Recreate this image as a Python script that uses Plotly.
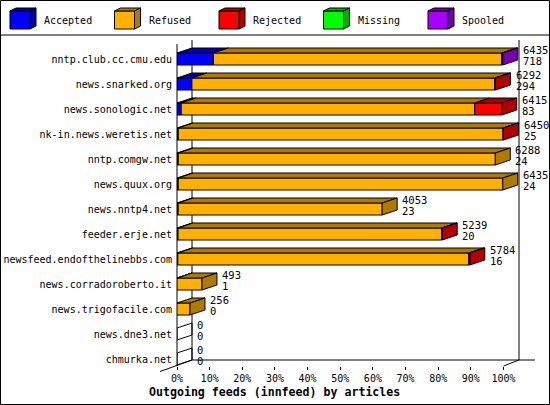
import plotly.graph_objects as go

# innfeed outgoing feeds, article counts per peer
hosts = ["nntp.club.cc.cmu.edu", "news.snarked.org", "news.sonologic.net",
         "nk-in.news.weretis.net", "nntp.comgw.net", "news.quux.org",
         "news.nntp4.net", "feeder.erje.net", "newsfeed.endofthelinebbs.com",
         "news.corradoroberto.it", "news.trigofacile.com", "news.dne3.net",
         "chmurka.net"]
offered = [6435, 6292, 6415, 6450, 6288, 6435, 4053, 5239, 5784, 493, 256, 0, 0]
accepted = [718, 294, 83, 25, 24, 24, 23, 20, 16, 1, 0, 0, 0]
refused = [5697, 5983, 5797, 6415, 6264, 6411, 4030, 5209, 5748, 492, 256, 0, 0]
rejected = [0, 15, 535, 10, 0, 0, 0, 10, 20, 0, 0, 0, 0]
missing = [0, 0, 0, 0, 0, 0, 0, 0, 0, 0, 0, 0, 0]
spooled = [20, 0, 0, 0, 0, 0, 0, 0, 0, 0, 0, 0, 0]

x_ticks = [0, 10, 20, 30, 40, 50, 60, 70, 80, 90, 100]

series = [
    ("Accepted", accepted, "#0000ff", "#0000b0"),
    ("Refused", refused, "#ffb000", "#b07900"),
    ("Rejected", rejected, "#ff0000", "#b00000"),
    ("Missing", missing, "#00ff00", "#00b000"),
    ("Spooled", spooled, "#aa00ff", "#7600b0"),
]

W, H = 550, 405
FONT = "DejaVu Sans Mono"

# geometry of the pseudo-3d chart (pixels)
X0_PX, X100_PX = 177, 503.5
PX_PER_PCT = (X100_PX - X0_PX) / 100
PLOT_RIGHT, PLOT_TOP, PLOT_BOTTOM = 545, 40, 366
ROW0_PX, ROW_PX = 59, 25
DX = 15 / PX_PER_PCT        # depth, in % units
DY = 5 / ROW_PX             # depth, in row units
BAR_W = 12 / ROW_PX


def fx(px):
    return px / W


def fy(py):
    return 1 - py / H


scale = 100 / max(offered)
rows = list(range(len(hosts)))

fig = go.Figure()
shapes = []

base = [0.0] * len(hosts)
ends = [0.0] * len(hosts)
last_dark = [None] * len(hosts)
for name, vals, col, dark in series:
    pct = [v * scale for v in vals]
    fig.add_trace(go.Bar(
        y=rows, x=[p if p > 0 else None for p in pct], base=base,
        orientation="h", width=BAR_W, name=name,
        marker=dict(color=col, line=dict(color="black", width=1)),
        showlegend=False, hoverinfo="skip"))
    for i, p in enumerate(pct):
        if p <= 0:
            continue
        a, b = base[i], base[i] + p
        yt = i - BAR_W / 2
        shapes.append(dict(
            type="path", xref="x", yref="y", layer="above",
            path=f"M{a},{yt} L{b},{yt} L{b + DX},{yt - DY} L{a + DX},{yt - DY} Z",
            fillcolor=dark, line=dict(color="black", width=1)))
        ends[i] = b
        last_dark[i] = dark
    base = [base[i] + pct[i] for i in rows]

# side faces and value labels
annotations = []
for i in rows:
    e = ends[i]
    yt, yb = i - BAR_W / 2, i + BAR_W / 2
    shapes.append(dict(
        type="path", xref="x", yref="y", layer="above",
        path=f"M{e},{yt} L{e + DX},{yt - DY} L{e + DX},{yb - DY} L{e},{yb} Z",
        fillcolor=last_dark[i] or "rgba(0,0,0,0)",
        line=dict(color="black", width=1)))
    for txt, ys in ((offered[i], 9), (accepted[i], -2)):
        annotations.append(dict(
            x=e + DX, y=i, xref="x", yref="y", text=str(txt), showarrow=False,
            xanchor="left", yanchor="middle", xshift=3, yshift=ys,
            font=dict(family=FONT, size=10.5, color="black")))

# frame: walls and floor
frame = [
    (X0_PX, 44, X0_PX, 366),          # front axis
    (192, 40, 192, 360),               # back left wall
    (519, 40, 519, 360),               # back right wall
    (192, 360, 535, 360),              # back floor edge
    (160, 371.5, 192, 360),            # left floor diagonal
    (X100_PX, 366, 519, 360),          # right floor diagonal
    (0, 35, W, 35),                    # legend separator
]
for x0, y0, x1, y1 in frame:
    shapes.append(dict(type="line", xref="paper", yref="paper", layer="below",
                       x0=fx(x0), y0=fy(y0), x1=fx(x1), y1=fy(y1),
                       line=dict(color="black", width=1)))
shapes.append(dict(type="rect", xref="paper", yref="paper", layer="above",
                   x0=fx(0.5), y0=fy(0.5), x1=fx(W - 0.5), y1=fy(H - 0.5),
                   line=dict(color="black", width=1)))

# legend with little 3d boxes
for k, (name, vals, col, dark) in enumerate(series):
    lx = 10 + 104.5 * k
    shapes.append(dict(type="rect", xref="paper", yref="paper", layer="above",
                       x0=fx(lx), y0=fy(29), x1=fx(lx + 20), y1=fy(11),
                       fillcolor=col, line=dict(color="black", width=1)))
    for pts in (
        [(lx, 11), (lx + 6, 8), (lx + 26, 8), (lx + 20, 11)],
        [(lx + 20, 11), (lx + 26, 8), (lx + 26, 26), (lx + 20, 29)],
    ):
        path = "M" + " L".join(f"{fx(px)},{fy(py)}" for px, py in pts) + " Z"
        shapes.append(dict(type="path", xref="paper", yref="paper", layer="above",
                           path=path, fillcolor=dark,
                           line=dict(color="black", width=1)))
    annotations.append(dict(
        x=fx(lx + 32), y=fy(20), xref="paper", yref="paper", text=name,
        showarrow=False, xanchor="left", yanchor="middle",
        font=dict(family=FONT, size=10, color="black")))

annotations.append(dict(
    x=fx(274), y=fy(392), xref="paper", yref="paper",
    text="<b>Outgoing feeds (innfeed) by articles</b>", showarrow=False,
    xanchor="center", yanchor="middle",
    font=dict(family=FONT, size=11.6, color="black")))

fig.update_layout(
    width=W, height=H,
    margin=dict(l=0, r=0, t=0, b=0, pad=0),
    paper_bgcolor="white", plot_bgcolor="white",
    barmode="overlay", showlegend=False,
    shapes=shapes, annotations=annotations,
    font=dict(family=FONT, size=10, color="black"),
    xaxis=dict(
        domain=[fx(X0_PX), fx(PLOT_RIGHT)],
        range=[0, (PLOT_RIGHT - X0_PX) / PX_PER_PCT],
        tickvals=x_ticks, ticktext=[f"{t}%" for t in x_ticks],
        ticks="outside", ticklen=3, tickcolor="black",
        showgrid=False, zeroline=False, showline=False, fixedrange=True,
        automargin=False,
        tickfont=dict(family=FONT, size=10, color="black")),
    yaxis=dict(
        domain=[fy(PLOT_BOTTOM), fy(PLOT_TOP)],
        range=[(PLOT_BOTTOM - ROW0_PX) / ROW_PX, (PLOT_TOP - ROW0_PX) / ROW_PX],
        tickvals=rows, ticktext=hosts, ticks="", ticklabelstandoff=4,
        showgrid=False, zeroline=False, showline=False, fixedrange=True,
        automargin=False,
        tickfont=dict(family=FONT, size=10, color="black")),
)

fig.write_html("out.html", config={"displayModeBar": False},
               post_script="document.body.style.margin='0';"
                           "document.body.style.overflow='hidden';")
